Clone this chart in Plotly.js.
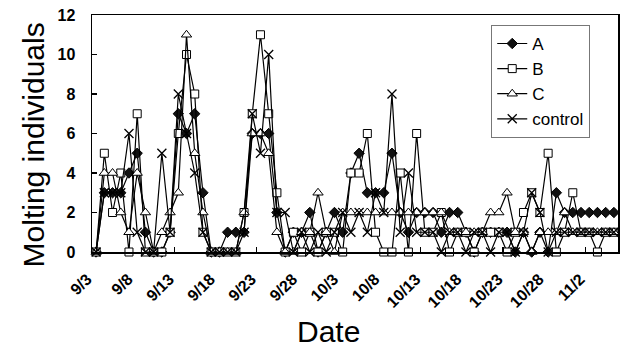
<!DOCTYPE html>
<html>
<head>
<meta charset="utf-8">
<script src="https://cdn.plot.ly/plotly-3.0.1.min.js"></script>
<style>html,body{margin:0;padding:0;background:#fff;}#chart{width:625px;height:351px;}</style>
</head>
<body>
<div id="chart"></div>
<script>
var dates = ["9/3","9/4","9/5","9/6","9/7","9/8","9/9","9/10","9/11","9/12","9/13","9/14","9/15","9/16","9/17","9/18","9/19","9/20","9/21","9/22","9/23","9/24","9/25","9/26","9/27","9/28","9/29","9/30",
"10/1","10/2","10/3","10/4","10/5","10/6","10/7","10/8","10/9","10/10","10/11","10/12","10/13","10/14","10/15","10/16","10/17","10/18","10/19","10/20","10/21","10/22","10/23","10/24","10/25","10/26","10/27","10/28","10/29","10/30","10/31",
"11/1","11/2","11/3","11/4","11/5"];
var tickDates = ["9/3","9/8","9/13","9/18","9/23","9/28","10/3","10/8","10/13","10/18","10/23","10/28","11/2"];
var yTicks = [0,2,4,6,8,10,12];

var seriesA = [0,3,3,3,4,5,1,0,0,1,7,6,7,3,0,0,1,1,1,6,6,6,2,0,1,1,2,0,1,2,1,4,5,3,3,3,5,2,1,2,2,2,1,2,2,1,0,1,1,1,1,0,1,0,1,0,3,2,2,2,2,2,2,2];
var seriesB = [0,5,2,4,0,7,0,0,0,1,6,10,8,1,0,0,0,0,2,7,11,7,3,0,1,0,1,0,1,1,0,4,4,6,1,0,0,4,0,6,1,1,2,0,1,1,0,1,1,1,0,1,2,3,2,5,0,1,3,1,1,0,1,1];
var seriesC = [0,4,4,2,1,4,2,0,1,2,3,11,5,2,0,0,0,0,2,6,6,5,1,0,0,1,1,3,1,0,2,2,2,2,2,2,2,2,2,2,2,2,2,1,1,1,1,1,2,2,3,1,1,0,1,1,1,2,1,1,1,1,1,1];
var seriesControl = [0,3,3,3,6,1,0,0,5,1,8,6,4,1,0,0,0,0,1,7,5,10,2,2,0,1,0,1,0,1,2,1,2,1,3,2,8,1,4,1,1,1,0,1,1,0,1,1,0,1,1,0,1,3,2,0,1,1,1,1,1,1,1,1];
var boundaryTicks = [9.5,19.5,29.5,39.5,49.5,59.5];

var lineStyle = {color:'#000', width:1.2};
var traces = [
  {name:'A', x:dates, y:seriesA, mode:'lines+markers', line:lineStyle, cliponaxis:false,
   marker:{symbol:'diamond', size:8, color:'#111', line:{color:'#000', width:1}}},
  {name:'B', x:dates, y:seriesB, mode:'lines+markers', line:lineStyle, cliponaxis:false,
   marker:{symbol:'square', size:8, color:'#fff', line:{color:'#000', width:1}}},
  {name:'C', x:dates, y:seriesC, mode:'lines+markers', line:lineStyle, cliponaxis:false,
   marker:{symbol:'triangle-up', size:9, color:'#fff', line:{color:'#000', width:1}}},
  {name:'control', x:dates, y:seriesControl, mode:'lines+markers', line:lineStyle, cliponaxis:false,
   marker:{symbol:'x-thin', size:9, color:'#000', line:{color:'#000', width:1.3}}},
  {x:[boundaryTicks[0]], y:[null], xaxis:'x2', yaxis:'y', showlegend:false, hoverinfo:'skip', mode:'markers'}
];

var tickFont = {family:'Liberation Sans, Arial, sans-serif', size:16, color:'#000', weight:'bold'};
var layout = {
  width:625, height:351,
  margin:{l:92, r:7, t:15, b:99},
  paper_bgcolor:'#fff', plot_bgcolor:'#fff',
  showlegend:true,
  legend:{x:0.759, y:0.958, xanchor:'left', yanchor:'top', bgcolor:'#fff',
          bordercolor:'#777', borderwidth:1,
          font:{family:'Liberation Sans, Arial, sans-serif', size:17, color:'#000'}},
  xaxis:{type:'category', categoryorder:'array', categoryarray:dates, range:[-0.5, 63.5],
         tickmode:'array', tickvals:tickDates, ticktext:tickDates, tickangle:-45,
         ticks:'', showgrid:false, zeroline:false,
         showline:true, linecolor:'#000', linewidth:1.5, mirror:true,
         tickfont:tickFont, ticklabelstandoff:10, ticklabelshift:-9},
  xaxis2:{overlaying:'x', anchor:'y', side:'bottom', range:[-0.5, 63.5], type:'linear',
          tickmode:'array', tickvals:boundaryTicks, ticks:'inside', ticklen:5, tickwidth:1.2, tickcolor:'#000',
          showticklabels:false, showgrid:false, zeroline:false, showline:false},
  yaxis:{range:[0,12], tickmode:'array', tickvals:yTicks, ticks:'inside', ticklen:5, tickwidth:1.2, tickcolor:'#000',
         showgrid:false, zeroline:false, showline:true, linecolor:'#000', linewidth:1.5, mirror:true,
         tickfont:tickFont, ticklabelstandoff:12},
  annotations:[
    {text:'Molting individuals', xref:'paper', yref:'paper', x:-0.112, y:0.45, textangle:-90,
     showarrow:false, xanchor:'center', yanchor:'middle',
     font:{family:'Liberation Sans, Arial, sans-serif', size:30, color:'#000'}},
    {text:'Date', xref:'paper', yref:'paper', x:0.449, y:-0.335, showarrow:false,
     xanchor:'center', yanchor:'middle',
     font:{family:'Liberation Sans, Arial, sans-serif', size:30, color:'#000'}}
  ]
};
Plotly.newPlot('chart', traces, layout, {staticPlot:true, displayModeBar:false});
</script>
</body>
</html>
